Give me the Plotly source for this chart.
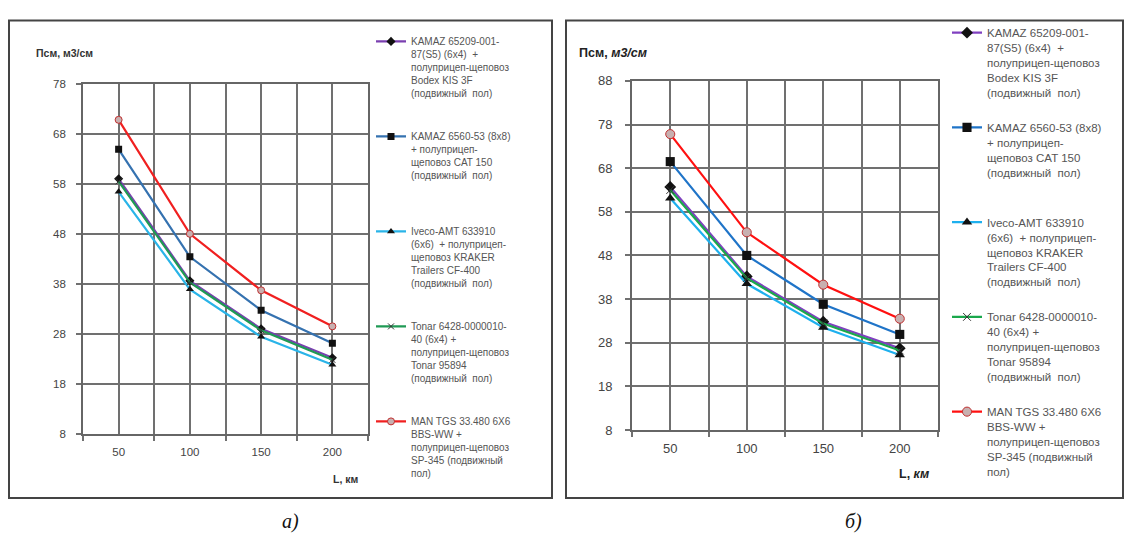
import plotly.graph_objects as go

W, H = 1126, 542

L_km = [50, 100, 150, 200]

names = [
    "KAMAZ 65209-001-<br>87(S5) (6x4)  +<br>полуприцеп-щеповоз<br>Bodex KIS 3F<br>(подвижный  пол)",
    "KAMAZ 6560-53 (8x8)<br>+ полуприцеп-<br>щеповоз CAT 150<br>(подвижный  пол)<br> ",
    "Iveco-AMT 633910<br>(6x6)  + полуприцеп-<br>щеповоз KRAKER<br>Trailers CF-400<br>(подвижный  пол)",
    "Tonar 6428-0000010-<br>40 (6x4) +<br>полуприцеп-щеповоз<br>Tonar 95894<br>(подвижный  пол)",
    "MAN TGS 33.480 6X6<br>BBS-WW +<br>полуприцеп-щеповоз<br>SP-345 (подвижный<br>пол)",
]

# panel a)
a_kamaz65209 = [59.0, 38.6, 29.0, 23.2]
a_kamaz6560 = [64.9, 43.4, 32.7, 26.1]
a_iveco = [56.4, 36.9, 27.4, 21.8]
a_tonar = [58.5, 38.3, 28.7, 22.8]
a_man = [70.8, 48.0, 36.7, 29.5]

# panel б)
b_kamaz65209 = [63.7, 43.2, 32.8, 26.7]
b_kamaz6560 = [69.5, 48.0, 36.8, 29.9]
b_iveco = [61.1, 41.5, 31.5, 25.2]
b_tonar = [63.0, 42.8, 32.4, 26.2]
b_man = [75.8, 53.3, 41.3, 33.5]

a_series = [a_kamaz65209, a_kamaz6560, a_iveco, a_tonar, a_man]
b_series = [b_kamaz65209, b_kamaz6560, b_iveco, b_tonar, b_man]

a_colors = ["#7a3fb0", "#3572b0", "#2ab4e8", "#1f9a55", "#f02020"]
b_colors = ["#8040c0", "#1f74c8", "#1eb0ee", "#1aa84c", "#ff1010"]


def px(x):
    return x / W


def py(y):
    return 1 - y / H


def marker_for(i, big):
    s = 1.3 if big else 1.0
    if i == 0:
        return dict(symbol="diamond", size=7 * s, color="#111")
    if i == 1:
        return dict(symbol="square", size=7 * s, color="#111")
    if i == 2:
        return dict(symbol="triangle-up", size=7 * s, color="#111")
    if i == 3:
        return dict(symbol="x-thin", size=6 * s, color="#333", line=dict(color="#333", width=1))
    return dict(symbol="circle", size=7 * s, color="#c8b0b0", line=dict(color="#c03030", width=1))


fig = go.Figure()

for i, ys in enumerate(a_series):
    fig.add_trace(go.Scatter(
        x=L_km, y=ys, mode="lines+markers", name=names[i],
        line=dict(color=a_colors[i], width=2.2),
        marker=marker_for(i, False),
        xaxis="x", yaxis="y", legend="legend", legendgroup="a%d" % i,
    ))

for i, ys in enumerate(b_series):
    fig.add_trace(go.Scatter(
        x=L_km, y=ys, mode="lines+markers", name=names[i],
        line=dict(color=b_colors[i], width=2.2),
        marker=marker_for(i, True),
        xaxis="x2", yaxis="y2", legend="legend2", legendgroup="b%d" % i,
    ))

grid = "#707070"


def xaxis(dom, anchor, fsize):
    return dict(
        domain=dom, anchor=anchor, range=[25, 225],
        tickvals=L_km, ticks="", showgrid=True, gridcolor=grid, gridwidth=1.7,
        minor=dict(tickvals=[25, 75, 125, 175, 225], showgrid=True, gridcolor=grid,
                   gridwidth=1.7, ticks="outside", ticklen=5, tickcolor=grid, tickwidth=1.5),
        showline=True, linecolor="#666", linewidth=1.7, mirror=True,
        tickfont=dict(family="Liberation Sans, Arial", size=fsize, color="#444"),
        zeroline=False, fixedrange=True, ticklabelstandoff=6,
    )


def yaxis(dom, anchor, rng, vals, fsize, standoff):
    return dict(
        domain=dom, anchor=anchor, range=rng, tickvals=vals,
        ticks="outside", ticklen=5, tickcolor=grid, tickwidth=1.5,
        showgrid=True, gridcolor=grid, gridwidth=1.7,
        showline=True, linecolor="#666", linewidth=1.7, mirror=True,
        tickfont=dict(family="Liberation Sans, Arial", size=fsize, color="#444"),
        zeroline=False, fixedrange=True, ticklabelstandoff=standoff,
    )


a_yticks = [8, 18, 28, 38, 48, 58, 68, 78]
b_yticks = [8, 18, 28, 38, 48, 58, 68, 78, 88]

fig.update_layout(
    width=W, height=H, margin=dict(l=0, r=0, t=0, b=0),
    paper_bgcolor="white", plot_bgcolor="white",
    font=dict(family="Liberation Sans, Arial", color="#444"),
    xaxis=xaxis([px(83), px(368)], "y", 11.5),
    yaxis=yaxis([py(439), py(79)], "x", [8, 78], a_yticks, 11.5, 8),
    xaxis2=xaxis([px(632), px(938)], "y2", 13),
    yaxis2=yaxis([py(435), py(76)], "x2", [8, 88], b_yticks, 13, 10),
    legend=dict(
        x=px(371), y=py(22), xanchor="left", yanchor="top",
        font=dict(family="Liberation Sans, Arial", size=10, color="#555"),
        bgcolor="rgba(0,0,0,0)", tracegroupgap=27, valign="top", itemwidth=30,
    ),
    legend2=dict(
        x=px(947), y=py(12), xanchor="left", yanchor="top",
        font=dict(family="Liberation Sans, Arial", size=11.5, color="#555"),
        bgcolor="rgba(0,0,0,0)", tracegroupgap=17, valign="top", itemwidth=30,
    ),
    shapes=[
        dict(type="rect", xref="paper", yref="paper", x0=px(9), x1=px(552), y0=py(505), y1=py(14),
             line=dict(color="#444", width=2)),
        dict(type="rect", xref="paper", yref="paper", x0=px(566), x1=px(1123), y0=py(505), y1=py(14),
             line=dict(color="#444", width=2)),
    ],
    annotations=[
        dict(text="<b>Псм, м3/см</b>", x=px(34), y=py(47), xref="paper", yref="paper",
             xanchor="left", yanchor="middle", showarrow=False,
             font=dict(family="Liberation Sans, Arial", size=10.5, color="#333")),
        dict(text="<b>Псм, <i>м3/см</i></b>", x=px(577), y=py(47), xref="paper", yref="paper",
             xanchor="left", yanchor="middle", showarrow=False,
             font=dict(family="Liberation Sans, Arial", size=12.5, color="#222")),
        dict(text="<b>L, км</b>", x=px(361), y=py(485), xref="paper", yref="paper",
             xanchor="right", yanchor="middle", showarrow=False,
             font=dict(family="Liberation Sans, Arial", size=10.5, color="#333")),
        dict(text="<b>L, <i>км</i></b>", x=px(931), y=py(480), xref="paper", yref="paper",
             xanchor="right", yanchor="middle", showarrow=False,
             font=dict(family="Liberation Sans, Arial", size=12.5, color="#222")),
        dict(text="<i>а)</i>", x=px(290), y=py(529), xref="paper", yref="paper",
             xanchor="center", yanchor="middle", showarrow=False,
             font=dict(family="Liberation Serif, Times New Roman", size=20, color="#111")),
        dict(text="<i>б)</i>", x=px(853), y=py(529), xref="paper", yref="paper",
             xanchor="center", yanchor="middle", showarrow=False,
             font=dict(family="Liberation Serif, Times New Roman", size=20, color="#111")),
    ],
)

fig.write_html("out.html")
